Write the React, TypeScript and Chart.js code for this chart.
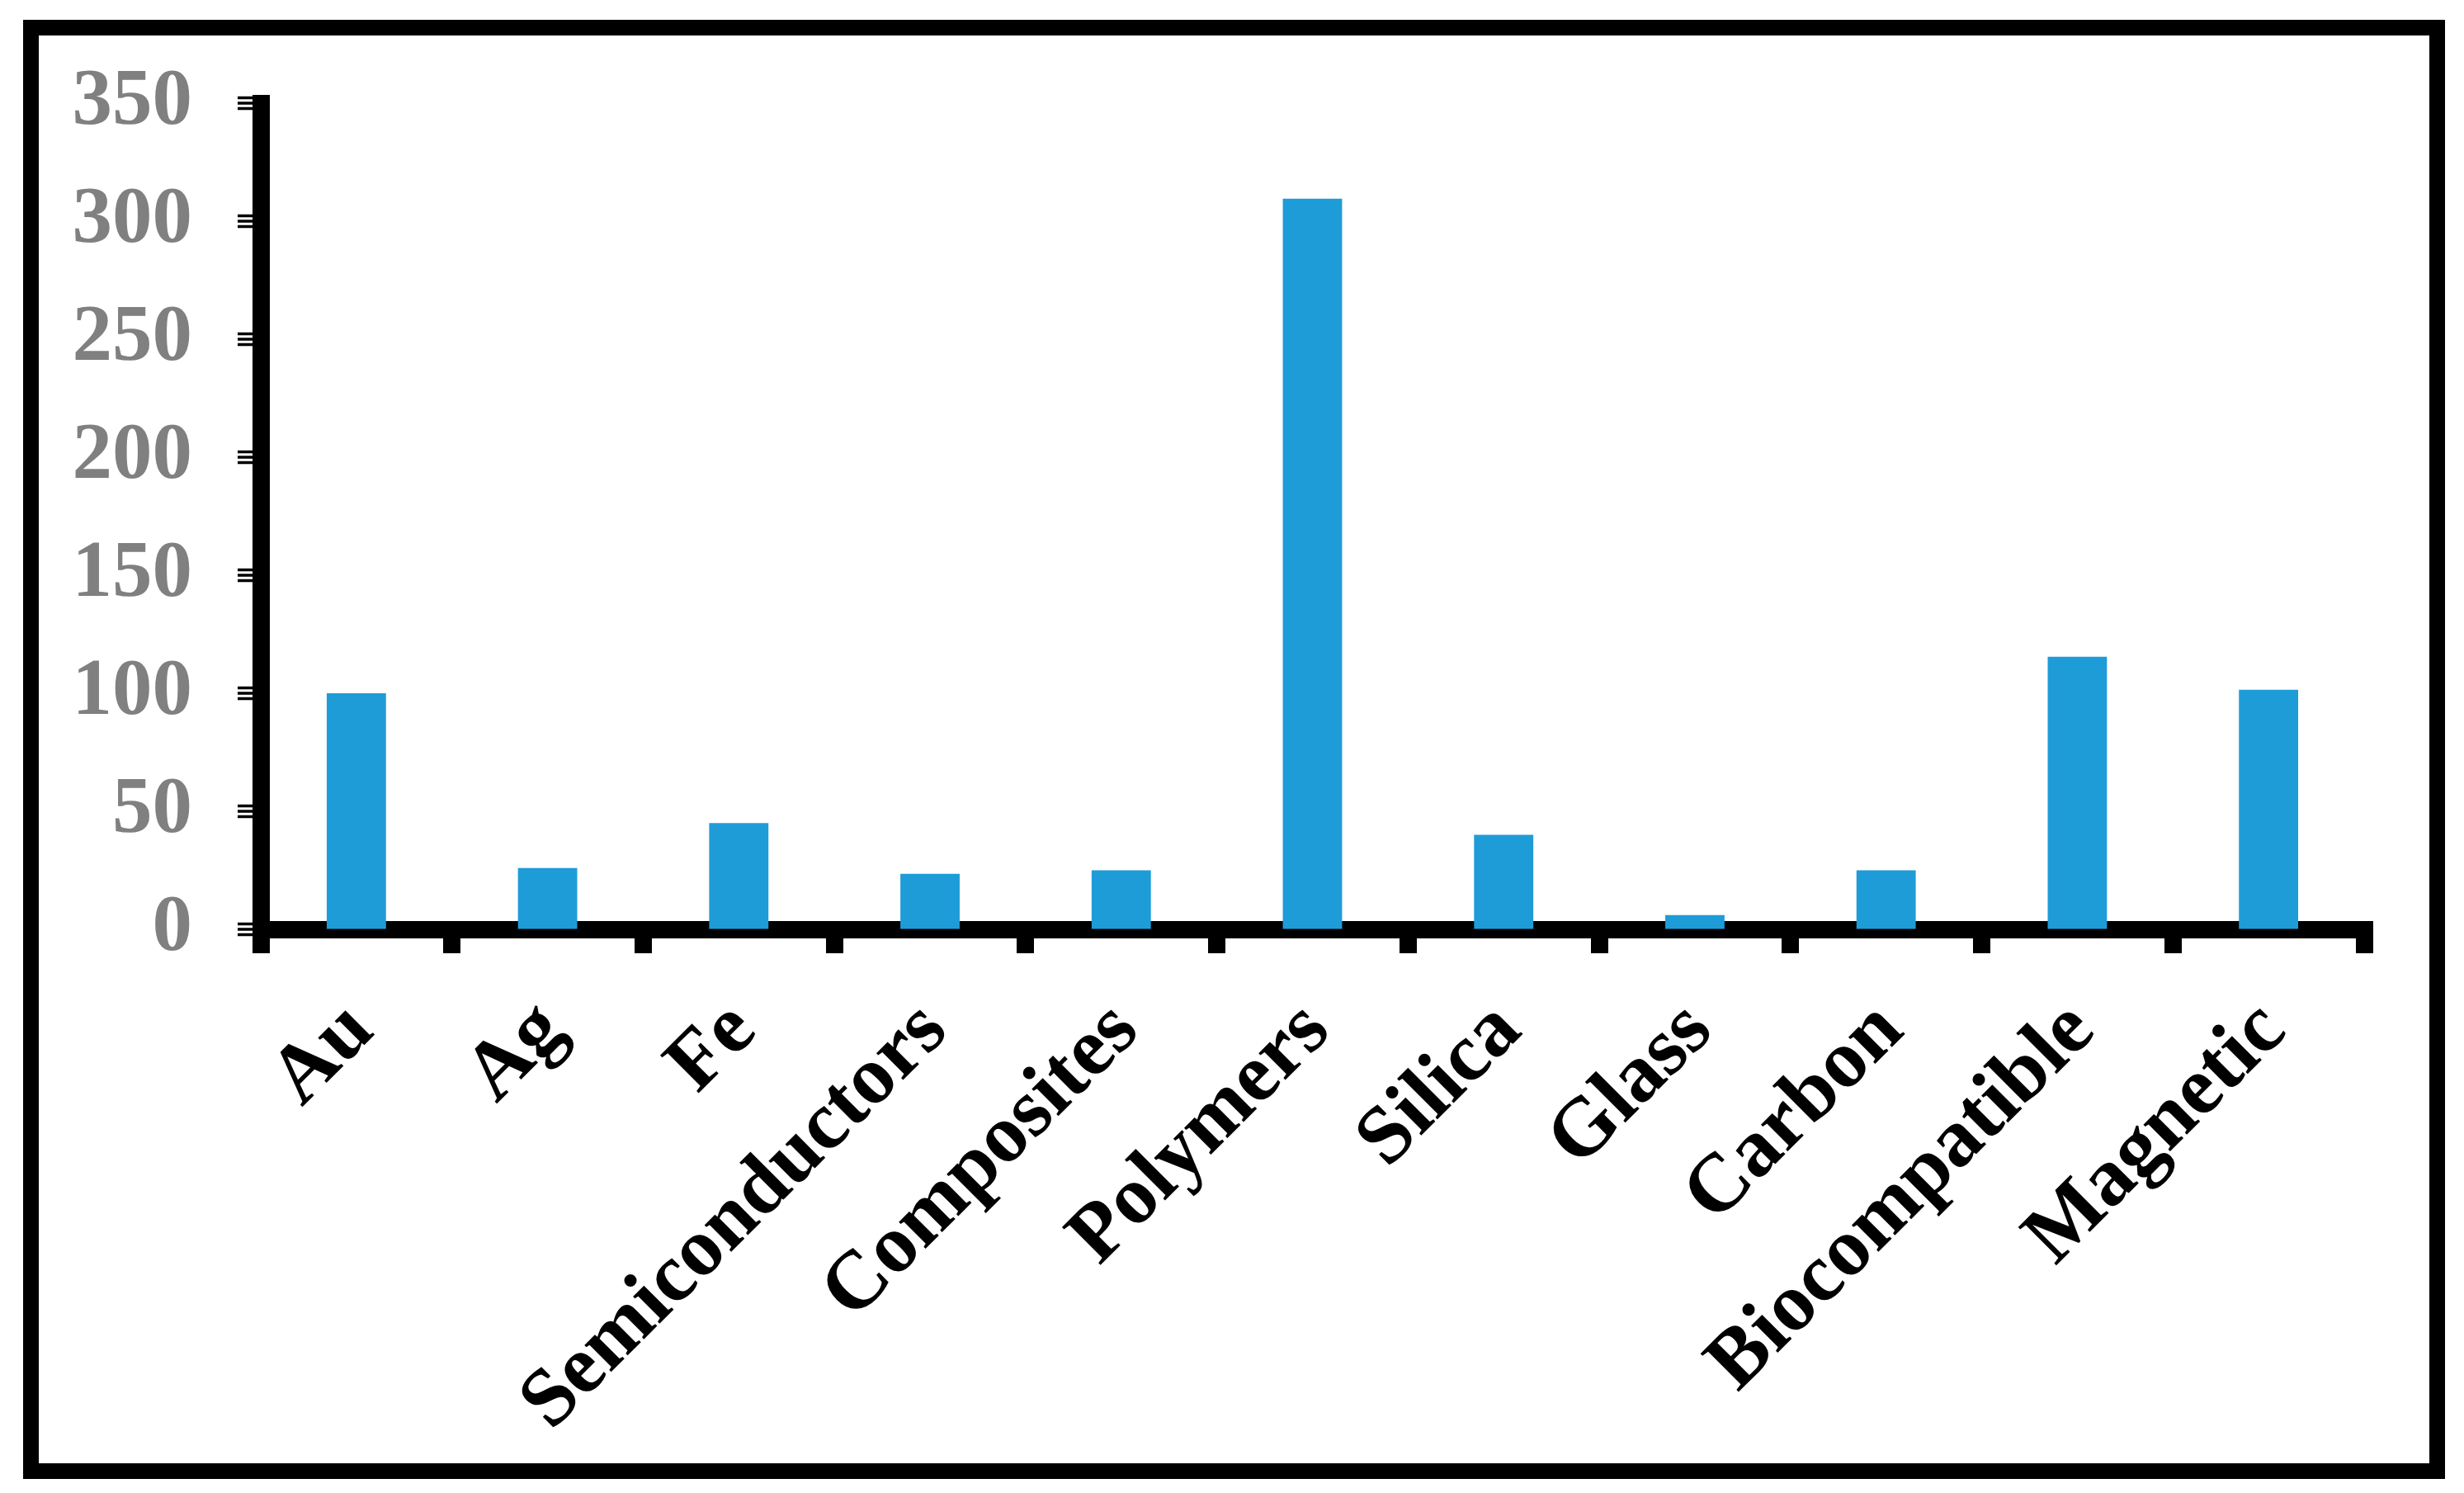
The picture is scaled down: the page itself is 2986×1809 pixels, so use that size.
import React, { useEffect, useRef } from 'react';
import { Chart, registerables } from 'chart.js';

Chart.register(...registerables);

const categories = [
  'Au',
  'Ag',
  'Fe',
  'Semiconductors',
  'Composites',
  'Polymers',
  'Silica',
  'Glass',
  'Carbon',
  'Biocompatible',
  'Magnetic',
];
const values = [100, 26, 45, 23.5, 25, 309.5, 40, 6, 25, 115.5, 101.5];
const yMin = 0;
const yMax = 350;
const yStep = 50;

const W = 2986;
const H = 1809;
const FONT = '"Liberation Serif", "Times New Roman", serif';

const framePlugin = {
  id: 'frame',
  afterDraw(chart: any) {
    const ctx = chart.ctx;
    ctx.save();
    ctx.strokeStyle = '#000';
    ctx.lineWidth = 19;
    ctx.strokeRect(37.5, 33.5, 2916, 1749);
    ctx.restore();
  },
};

const yTickPlugin = {
  id: 'yTriTicks',
  afterDraw(chart: any) {
    const s = chart.scales.y;
    const ctx = chart.ctx;
    ctx.save();
    ctx.fillStyle = '#000';
    for (const t of s.ticks) {
      const p = s.getPixelForValue(t.value);
      for (const off of [-6.5, 0, 6.5]) {
        ctx.fillRect(s.right - 28, p + off - 1.75, 18, 3.5);
      }
    }
    ctx.restore();
  },
};

export default function App() {
  const ref = useRef<HTMLCanvasElement | null>(null);

  useEffect(() => {
    if (!ref.current) return;
    const chart = new Chart(ref.current, {
      type: 'bar',
      data: {
        labels: categories,
        datasets: [
          {
            data: values,
            backgroundColor: '#1e9cd8',
            barPercentage: 0.31,
            categoryPercentage: 1,
          },
        ],
      },
      options: {
        responsive: false,
        animation: false,
        devicePixelRatio: 1,
        layout: { padding: { top: 125, right: 121, left: 0, bottom: 0 } },
        plugins: {
          legend: { display: false },
          tooltip: { enabled: false },
        },
        scales: {
          x: {
            z: 1,
            offset: true,
            grid: {
              offset: true,
              drawOnChartArea: false,
              color: '#000',
              lineWidth: 21,
              tickLength: 29,
            },
            border: { color: '#000', width: 21 },
            ticks: {
              autoSkip: false,
              minRotation: 45,
              maxRotation: 45,
              padding: 36,
              labelOffset: 6,
              color: '#000',
              font: { family: FONT, size: 100, weight: 'bold' },
            },
            afterFit(s: any) {
              s.height = 683;
            },
          },
          y: {
            z: 1,
            min: yMin,
            max: yMax,
            ticks: {
              stepSize: yStep,
              color: '#808080',
              padding: 55,
              font: { family: FONT, size: 97, weight: 'bold' },
            },
            grid: {
              drawOnChartArea: false,
              tickLength: 28,
              color: 'rgba(0,0,0,0)',
            },
            border: { color: '#000', width: 21 },
            afterFit(s: any) {
              s.width = 316;
            },
          },
        },
      } as any,
      plugins: [framePlugin, yTickPlugin],
    });
    return () => chart.destroy();
  }, []);

  return (
    <div style={{ position: 'fixed', left: 0, top: 0, width: W, height: H, background: '#fff' }}>
      <canvas ref={ref} width={W} height={H} style={{ display: 'block', width: W, height: H }} />
    </div>
  );
}
